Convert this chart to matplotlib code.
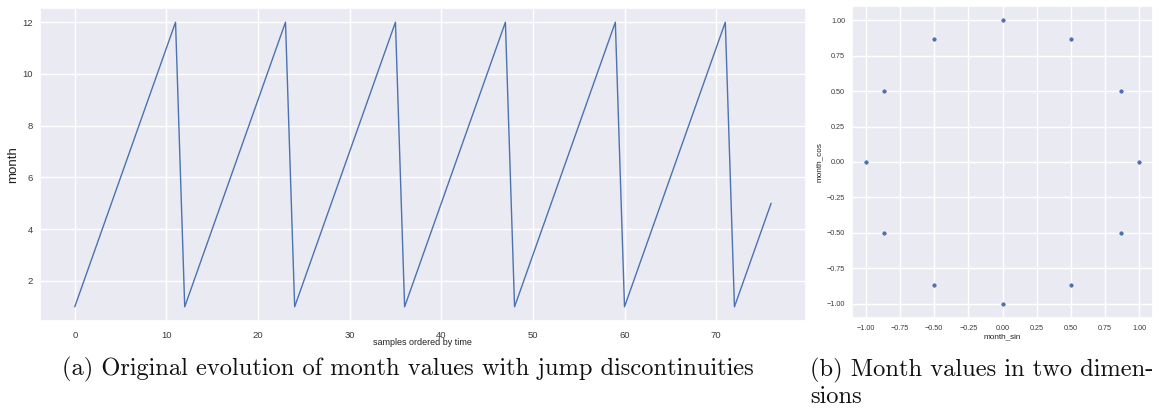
import numpy as np
import matplotlib
matplotlib.use('Agg')
import matplotlib.pyplot as plt
import seaborn as sns

sns.set_theme(style='darkgrid')
plt.rcParams['font.family'] = ['Liberation Sans', 'DejaVu Sans']

# month value of every sample, in time order
month = [1, 2, 3, 4, 5, 6, 7, 8, 9, 10, 11, 12,
         1, 2, 3, 4, 5, 6, 7, 8, 9, 10, 11, 12,
         1, 2, 3, 4, 5, 6, 7, 8, 9, 10, 11, 12,
         1, 2, 3, 4, 5, 6, 7, 8, 9, 10, 11, 12,
         1, 2, 3, 4, 5, 6, 7, 8, 9, 10, 11, 12,
         1, 2, 3, 4, 5, 6, 7, 8, 9, 10, 11, 12,
         1, 2, 3, 4, 5]
sample = list(range(len(month)))

# cyclic encoding of months 1..12
month_sin = [0.5, 0.866, 1.0, 0.866, 0.5, 0.0, -0.5, -0.866, -1.0, -0.866, -0.5, 0.0]
month_cos = [0.866, 0.5, 0.0, -0.5, -0.866, -1.0, -0.866, -0.5, 0.0, 0.5, 0.866, 1.0]

blue = '#4c72b0'
tick_col = '#3a3a3a'

fig = plt.figure(figsize=(11.68, 4.08), dpi=100)

# (a) raw month values
ax1 = fig.add_axes([0.0342, 0.2132, 0.6558, 0.7672])
ax1.plot(sample, month, color=blue, linewidth=1.0)
ax1.set_xticks([0, 10, 20, 30, 40, 50, 60, 70])
ax1.set_yticks([2, 4, 6, 8, 10, 12])
ax1.tick_params(axis='both', labelsize=6.8, colors=tick_col, length=0)
ax1.tick_params(axis='x', pad=7)
ax1.tick_params(axis='y', pad=5)
ax1.set_ylabel('month', fontsize=9.6, color='#222222', labelpad=2)
ax1.set_xlabel('samples ordered by time', fontsize=6.5, color='#222222', labelpad=-1)

# (b) sin/cos encoding
ax2 = fig.add_axes([0.7295, 0.2206, 0.2577, 0.7647])
ax2.scatter(month_sin, month_cos, s=13, color=blue, edgecolor='white', linewidth=0.4, zorder=3)
ticks = [-1.0, -0.75, -0.5, -0.25, 0.0, 0.25, 0.5, 0.75, 1.0]
ax2.set_xticks(ticks)
ax2.set_yticks(ticks)
ax2.tick_params(axis='both', labelsize=5.2, colors=tick_col, length=0)
ax2.tick_params(axis='x', pad=5)
ax2.tick_params(axis='y', pad=5)
ax2.set_xlabel('month_sin', fontsize=5.9, color='#222222', labelpad=1)
ax2.set_ylabel('month_cos', fontsize=5.9, color='#222222', labelpad=3)

# captions under the panels
cap = dict(family='cmr10', fontsize=17.6, color='#111111', va='center')
fig.text(62 / 1168, 1 - 369 / 408, '(a) Original evolution of month values with jump discontinuities', ha='left', **cap)
fig.text(810 / 1168, 1 - 370 / 408, '(b) Month values in two dimen-', ha='left', **cap)
fig.text(810 / 1168, 1 - 397 / 408, 'sions', ha='left', **cap)

fig.savefig('out.png', dpi=100, facecolor='white')
